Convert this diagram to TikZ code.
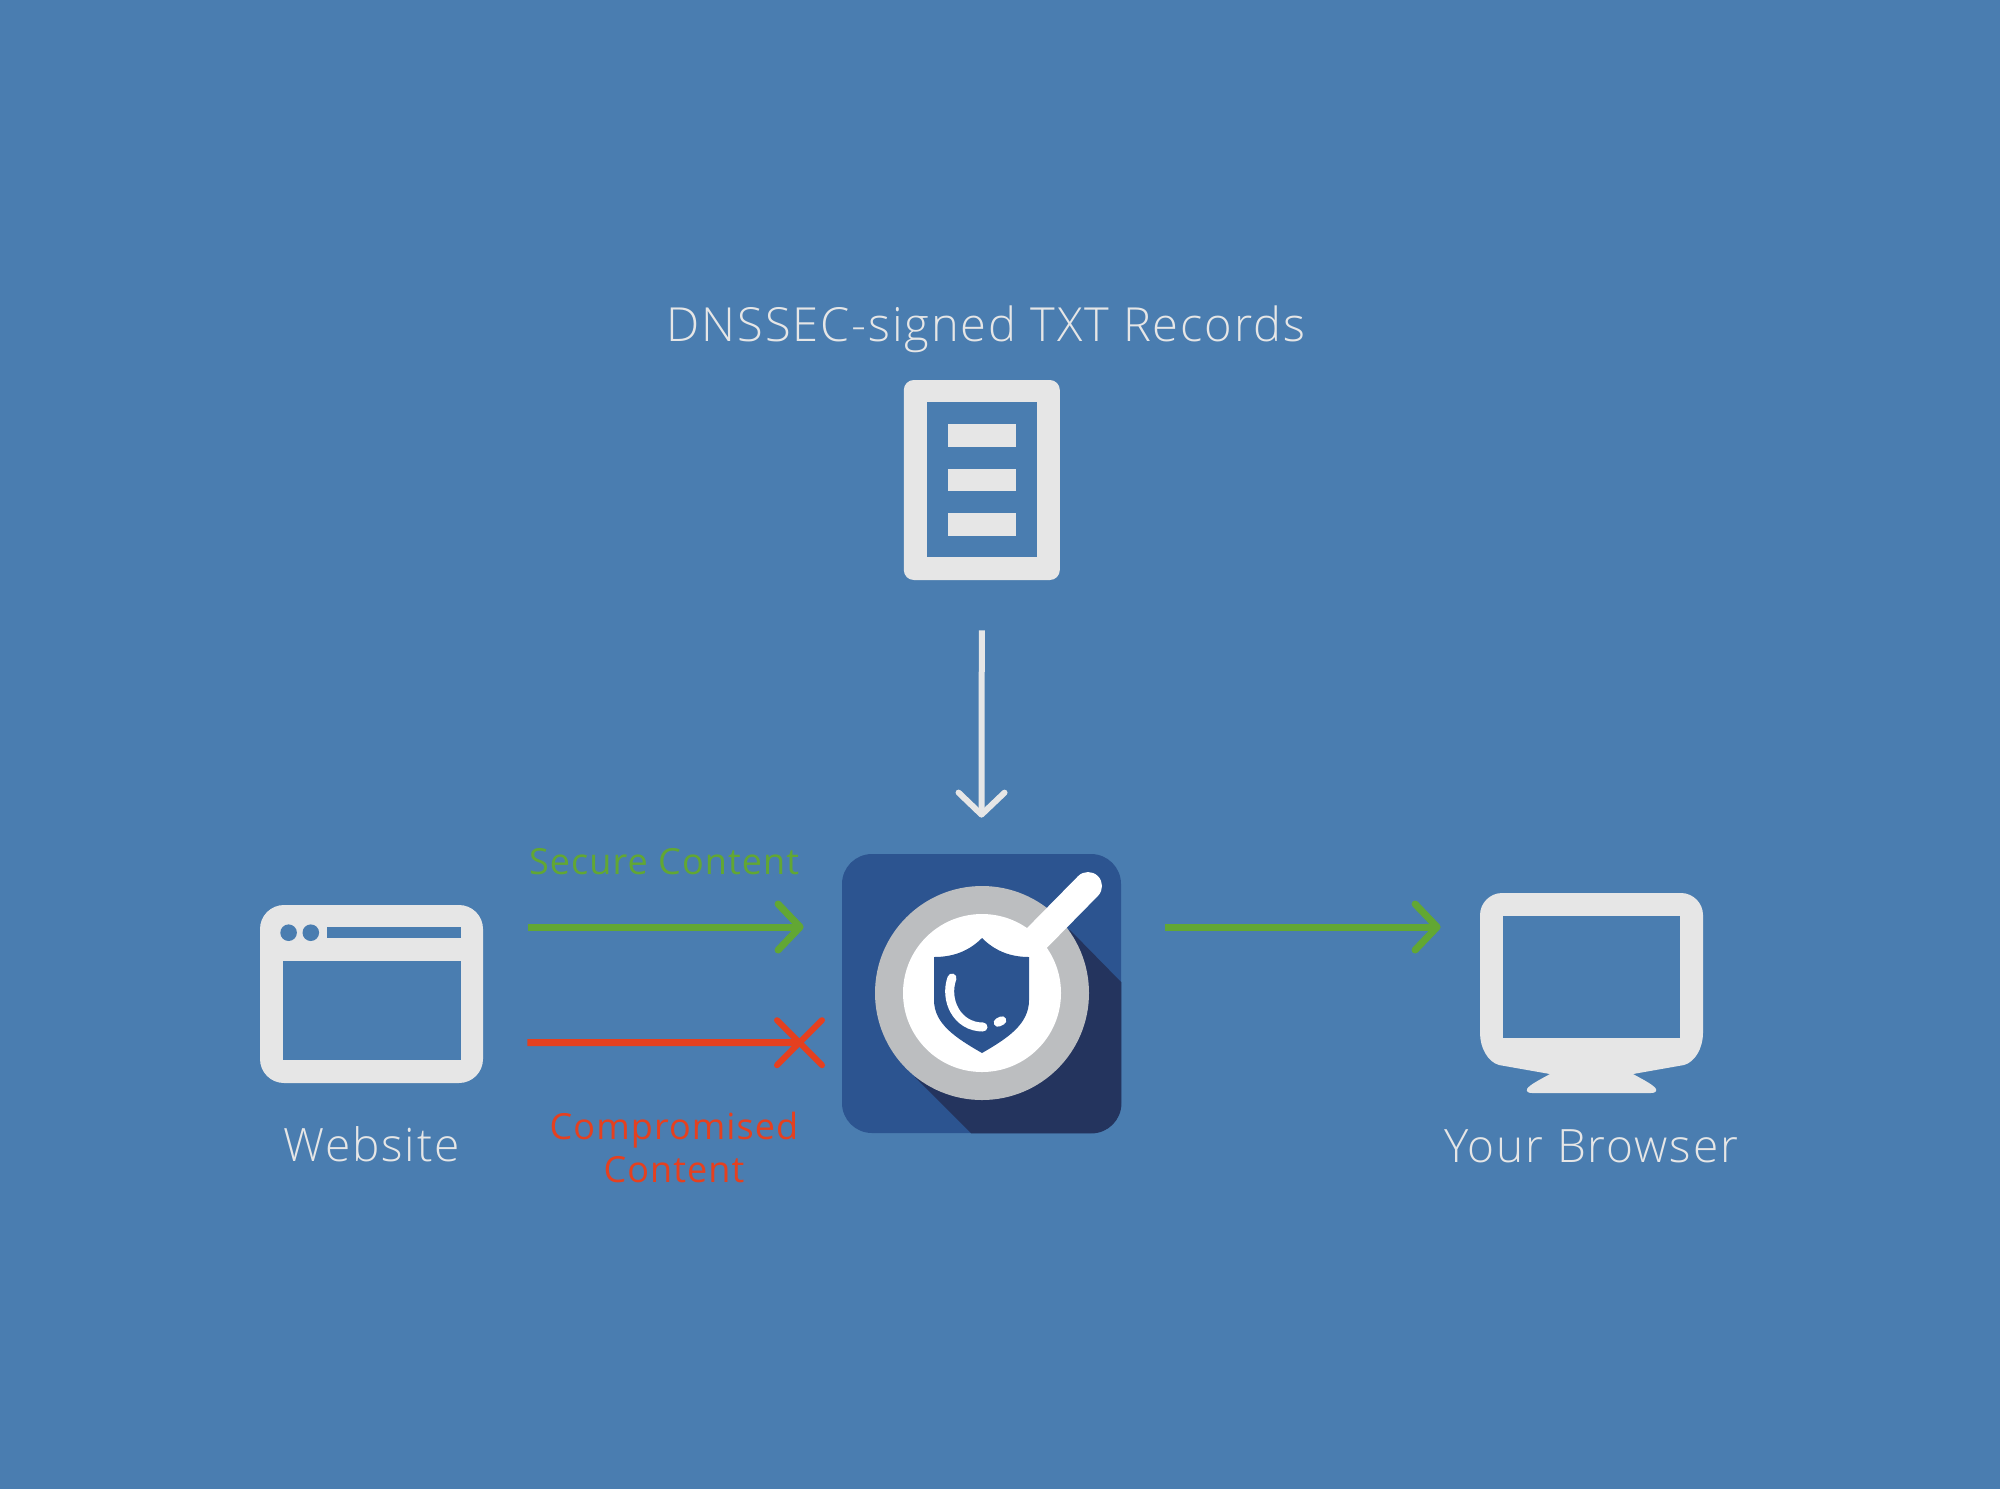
\documentclass[tikz,border=0pt]{standalone}
\usepackage{fontspec}
\setmainfont{Open Sans}[UprightFont=* Light, LetterSpace=4]
\newfontfamily\arrowfont{Open Sans}[LetterSpace=3]
\definecolor{bgblue}{RGB}{74, 125, 176}
\definecolor{iconwhite}{RGB}{230, 230, 230}
\definecolor{securegreen}{RGB}{98, 167, 51}
\definecolor{badred}{RGB}{229, 64, 31}
\definecolor{appblue}{RGB}{44, 84, 144}
\definecolor{appshadow}{RGB}{36, 52, 94}
\definecolor{lensgrey}{RGB}{188, 190, 192}
\usetikzlibrary{arrows.meta, shapes.misc}
\tikzset{
  iconbox/.style={fill=iconwhite, inner sep=0pt},
  hole/.style={fill=bgblue},
  label/.style={text=iconwhite, font=\fontsize{23}{27}\selectfont, anchor=base, inner sep=0pt},
  smalllabel/.style={font=\arrowfont\fontsize{18}{22}\selectfont, anchor=base, inner sep=0pt},
  flow/.style={line width=3.5pt, -{Straight Barb[length=11pt, width=23pt, round]}},
}

\begin{document}
\begin{tikzpicture}[x=0.5pt, y=-0.5pt]
  \fill[bgblue] (0,0) rectangle (2000,1489);
  \useasboundingbox (0,0) rectangle (2000,1489);

  % Records
  \node[label, font=\fontsize{23.5}{27}\selectfont] (recordstitle) at (986,341.5) {DNSSEC-signed TXT Records};
  \node[iconbox, rounded corners=5pt, minimum width=78pt, minimum height=100pt] (records) at (981.8,480) {};
  \fill[hole] (926.7,402) rectangle (1037,557);
  \foreach \y in {424,468.5,513} {
    \fill[iconwhite] (948,\y) rectangle (1015.6,\y+22.5);
  }

  % Website
  \node[iconbox, rounded corners=12pt, minimum width=111.5pt, minimum height=89pt] (website) at (371.5,994) {};
  \fill[hole] (288.6,932.7) circle (8.3);
  \fill[hole] (310.8,932.7) circle (8.3);
  \fill[hole] (327,927) rectangle (461,938);
  \fill[hole] (283,961) rectangle (461,1060);
  \node[label] (websitelabel) at (371.5,1161) {Website};

  % Shield app
  \node[fill=appblue, rounded corners=15pt, minimum size=139.5pt, inner sep=0pt] (app) at (981.5,993.5) {};
  \begin{scope}
    \clip[rounded corners=15pt] (app.south west) rectangle (app.north east);
    \fill[appshadow] (1070,930) -- (1122,983) -- (1122,1134) -- (972,1134) -- (915,1077) -- cycle;
  \end{scope}
  \fill[lensgrey] (982,993) circle (107);
  \fill[white] (982,993) circle (79);
  \draw[white, line width=14pt, line cap=round] (1030,945) -- (1088,886);
  \fill[appblue] (934,957) .. controls (955,957) and (970,950) .. (982,938)
    .. controls (994,950) and (1009,957) .. (1029,957) -- (1029,1000)
    .. controls (1029,1024) and (1008,1038) .. (982,1053)
    .. controls (956,1038) and (934,1024) .. (934,1000) -- cycle;
  \draw[white, line width=4.5pt, line cap=round] (952,978) .. controls (944,1000) and (957,1027) .. (983,1027);
  \draw[white, line width=4.3pt, line cap=round] (998,1022.5) -- (1002,1020.5);

  % Browser
  \node[minimum width=111.5pt, minimum height=100pt, inner sep=0pt] (browser) at (1591.5,993) {};
  \fill[iconwhite] (1502,893) -- (1681,893) .. controls (1693,893) and (1703,903) .. (1703,915)
    -- (1703,1033) .. controls (1703,1048) and (1695,1062) .. (1684,1065) -- (1633,1074)
    .. controls (1642,1079) and (1654,1085) .. (1656,1089) .. controls (1657,1092) and (1654,1093) .. (1651,1093)
    -- (1532,1093) .. controls (1529,1093) and (1526,1092) .. (1527,1089)
    .. controls (1529,1085) and (1541,1079) .. (1550,1074) -- (1499,1065)
    .. controls (1488,1062) and (1480,1048) .. (1480,1033) -- (1480,915)
    .. controls (1480,903) and (1490,893) .. (1502,893) -- cycle;
  \fill[hole] (1503,916) rectangle (1680,1038);
  \node[label] (browserlabel) at (1591,1162) {Your Browser};

  % Connectors
  \draw[flow, iconwhite, line width=3pt] ([yshift=-25pt]records.south) -- ([yshift=18pt]app.north);
  \draw[flow, securegreen] ([shift={(22.5pt,33.5pt)}]website.east) -- ([shift={(-19pt,33.25pt)}]app.west);
  \draw[flow, securegreen] ([shift={(22pt,33.25pt)}]app.east) -- ([shift={(-19.5pt,33pt)}]browser.west);
  \node[cross out, draw=badred, line width=3pt, line cap=round, minimum size=19.5pt, inner sep=0pt] (blocked) at (799.5,1042.7) {};
  \draw[badred, line width=3.5pt] ([shift={(22pt,-24.3pt)}]website.east) -- (blocked.center);

  % Labels on the arrows
  \node[smalllabel, text=securegreen] (securelabel) at (664,874) {Secure Content};
  \node[smalllabel, text=badred] (badlabel1) at (674,1139) {Compromised};
  \node[smalllabel, text=badred] (badlabel2) at (674,1182) {Content};
\end{tikzpicture}
\end{document}
